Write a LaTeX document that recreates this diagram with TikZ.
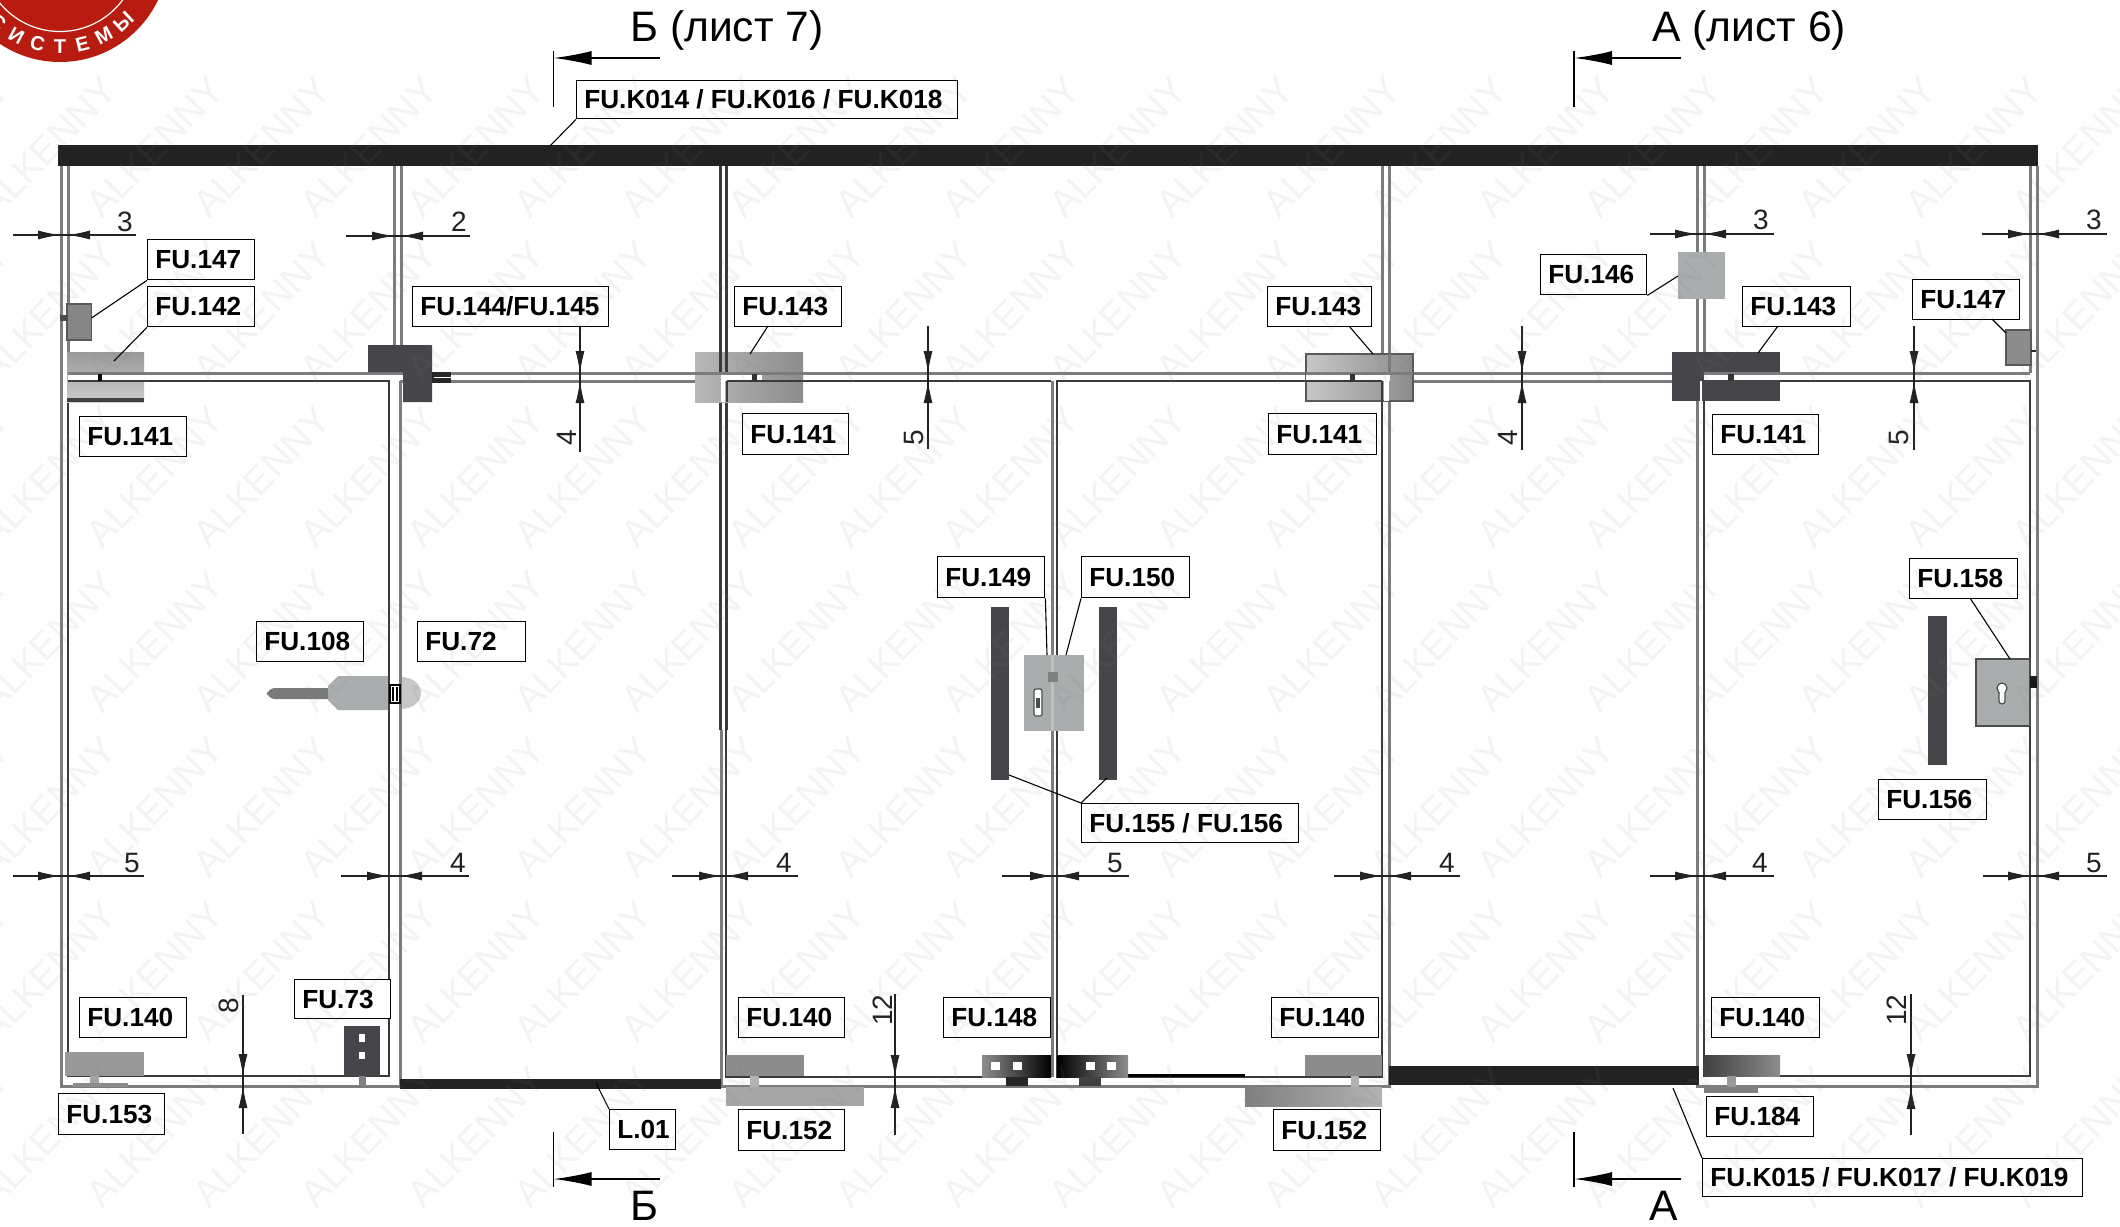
\documentclass[tikz,border=0pt]{standalone}
\usepackage{fontspec}
\setmainfont{Liberation Sans}
\usetikzlibrary{arrows.meta,shapes.geometric}
\definecolor{barblack}{HTML}{222222}
\definecolor{postgray}{HTML}{7C7C7C}
\definecolor{doordark}{HTML}{3A3A3A}
\definecolor{steel}{HTML}{A9ADAE}
\definecolor{darksteel}{HTML}{46464A}
\definecolor{logored}{HTML}{B81C10}
\tikzset{
 lbl/.style={draw=black,line width=.7pt,fill=white,inner xsep=0pt,inner ysep=0pt,font=\fontsize{13.1}{13.1}\selectfont\bfseries,text=black},
 postline/.style={draw=postgray,line width=1.5pt},
 doorline/.style={draw=doordark,line width=1.1pt},
 leader/.style={draw=black,line width=.55pt},
 dimline/.style={draw=barblack,line width=.65pt},
 dimtip/.style={draw=barblack,line width=.5pt,-{Latex[length=11pt,width=4.5pt]}},
 dimtxt/.style={font=\fontsize{14}{14}\selectfont,text=barblack,inner sep=0pt},
 secline/.style={draw=black,line width=.8pt},
 sectip/.style={draw=black,line width=.8pt,-{Latex[length=19pt,width=7pt]}},
 sectxt/.style={font=\fontsize{21.3}{21.3}\selectfont,text=black,inner sep=0pt},
 wm/.style={font=\fontsize{19}{19}\selectfont,text=gray,text opacity=.09,rotate=46,inner sep=0pt},
 keyh/.style={draw=black!70,line width=.6pt,fill=white},
}
\newcommand\lab[6]{%
 \pgfmathsetlengthmacro\lw{(#4-#2)*0.5pt}%
 \pgfmathsetlengthmacro\lh{(#5-#3)*0.5pt}%
 \node[lbl,anchor=north west,minimum height=\lh] (#1) at (#2,#3) {\hbox to \lw{\hskip 3.8pt #6\hss}};}
\newcommand\hd[8]{%
 \draw[dimline] (#1,#3) -- (#2,#3);
 \draw[dimtip] (#4-24,#3) -- (#4,#3);
 \draw[dimtip] (#5+24,#3) -- (#5,#3);
 \node[dimtxt] (h#7x#8) at (#7,#8) {#6};}
\newcommand\vd[8]{%
 \draw[dimline] (#1,#2) -- (#1,#3);
 \draw[dimtip] (#1,#4-25) -- (#1,#4);
 \draw[dimtip] (#1,#5+25) -- (#1,#5);
 \node[dimtxt,rotate=90] (v#7x#8) at (#7,#8) {#6};}
\begin{document}
\begin{tikzpicture}[x=0.5pt,y=-0.5pt]
\useasboundingbox (0,0) rectangle (2120,1226);
\fill[white] (0,0) rectangle (2120,1226);

% logo
\begin{scope}
\clip (0,0) rectangle (300,100);
\fill[logored] (60,-46.5) circle[radius=108.5];
\draw[white,line width=.6pt] (60,-46.5) circle[radius=78];
\foreach \a/\t/\n in {-42/С/a,-28/И/b,-14/С/c,0/Т/d,14/Е/e,28/М/f,43/Ы/g}{
  \node[font=\fontsize{10}{10}\selectfont\bfseries,text=white,inner sep=0pt,rotate=\a] (logo\n) at ({60+93*sin(\a)},{-46.5+93*cos(\a)}) {\t};
}
\end{scope}

% top rail
\fill[barblack] (58,145) rectangle (2038,166);

% posts above and through the transom
\foreach \x in {61,68,394,401,1382,1389,1697,1704,2030,2037}{
  \draw[postline] (\x,166) -- (\x,373);
}
\draw[doordark,line width=1.6pt] (720.5,166) -- (720.5,730);
\draw[doordark,line width=1.6pt] (726.5,166) -- (726.5,730);
% transom
\draw[postline] (68,373) -- (2030,373);
\draw[postline] (400,381) -- (721,381);
\draw[postline] (1389,381) -- (1697,381);

% outer frame below the transom
\draw[postline] (61,373) -- (61,1086) -- (400,1086) -- (400,381);
\draw[postline] (721,730) -- (721,1086);
\draw[postline] (721,1086) -- (1389,1086) -- (1389,373);
\draw[postline] (1697,373) -- (1697,1086) -- (2037,1086) -- (2037,373);

% door leaves
\draw[doorline] (68,381) -- (68,1076) -- (389,1076) -- (389,381) -- cycle;
\draw[doorline] (726,730) -- (726,1077) -- (1051,1077);
\draw[doorline] (726,381) -- (1051,381);
\draw[postline] (1052,381) -- (1052,1077);
\draw[doorline] (1382,381) -- (1057,381) -- (1057,1077) -- (1382,1077) -- cycle;
\draw[doorline] (1704,381) -- (1704,1076) -- (2030,1076) -- (2030,381) -- cycle;

% bottom black profiles
\fill[barblack] (400,1079) rectangle (721,1089);
\fill[barblack] (1389,1066) rectangle (1699,1085);
\fill[black] (1126,1074) rectangle (1245,1077);

% top left hardware
\filldraw[fill=black!48,draw=black!65,line width=.6pt] (67,304) rectangle (91.5,340);
\fill[black!70] (60,315) rectangle (68,321);
\shade[top color=black!40,bottom color=black!20] (67,352) rectangle (144,402);
\fill[black!75] (67,398) rectangle (144,402);
\fill[white] (68,375) rectangle (144,380);
\draw[postline] (68,373) -- (144,373);
\draw[doorline] (68,381) -- (144,381);
\fill[black] (98,374) rectangle (102,381);

% L-shaped dark bracket
\fill[darksteel] (368,345) -- (432,345) -- (432,402) -- (403,402) -- (403,372) -- (368,372) -- cycle;
\fill[black!85] (432,372) rectangle (451,383);
\draw[white,line width=.5pt] (434,377) -- (451,377);

% plates at the transom
\shade[left color=black!28,right color=black!45] (695,352) rectangle (803,402);
\draw[doordark,line width=1.6pt] (720.5,352) -- (720.5,373);
\draw[doordark,line width=1.6pt] (726.5,352) -- (726.5,373);
\fill[white] (721,375) rectangle (762,381);
\fill[white] (721,375) rectangle (725,402);
\draw[doordark,line width=1pt] (726.5,381) -- (726.5,402);
\draw[postline] (695,373) -- (803,373);
\draw[doorline] (727,381) -- (803,381);
\fill[black!80] (752,374) rectangle (757,381);

\shade[left color=black!22,right color=black!45] (1306,354) rectangle (1413,401);
\draw[black!65,line width=.7pt] (1306,354) rectangle (1413,401);
\fill[white] (1306,375) rectangle (1390,381);
\fill[white] (1384,375) rectangle (1389,401);
\draw[postline] (1306,373) -- (1413,373);
\draw[doorline] (1306,381) -- (1382,381);
\draw[doorline] (1382,381) -- (1382,401);
\draw[postline] (1389,354) -- (1389,373);
\fill[black!80] (1350,374) rectangle (1355,381);

\fill[darksteel] (1672,352) rectangle (1780,401);
\fill[white] (1704,375) rectangle (1780,380);
\draw[postline] (1704,373) -- (1780,373);
\draw[white,line width=.7pt] (1701,381) -- (1701,401);
\fill[black!80] (1728,374) rectangle (1734,381);

\fill[steel] (1678,252) rectangle (1725,299);
\filldraw[fill=black!45,draw=black!65,line width=.6pt] (2006,330) rectangle (2031,365);
\draw[black!85,line width=1pt] (2031,351) -- (2036,351);

% lever handle
\fill[black!52,rounded corners=4pt] (267,688) rectangle (340,699);
\fill[steel] (388,676) -- (338,676) -- (328,686) -- (328,700) -- (338,710) -- (388,710) -- cycle;
\fill[black!22] (400,677) .. controls (428,677) and (428,709) .. (400,709) -- cycle;
\draw[doorline] (389,670) -- (389,716);
\draw[postline] (400,670) -- (400,716);
\draw[black,line width=.6pt,fill=white] (390,685) rectangle (400,703);
\draw[black,line width=.6pt] (393,687) -- (393,701) (397,687) -- (397,701);

% centre hardware
\fill[darksteel] (991,607) rectangle (1009,780);
\fill[darksteel] (1099,607) rectangle (1117,780);
\fill[steel] (1024,655) rectangle (1084,731);
\draw[black!25,line width=1.5pt] (1052,655) -- (1052,731);
\fill[black!50] (1048,672) rectangle (1058,682);
\draw[keyh,rounded corners=1pt] (1034,689) rectangle (1042,716);
\fill[black!70] (1036,698) rectangle (1040,708);

% right hardware
\fill[darksteel] (1928,616) rectangle (1947,765);
\filldraw[fill=steel,draw=black!70,line width=.7pt] (1976,659) rectangle (2030,726);
\fill[black!90] (2030,676) rectangle (2037,688);
\draw[keyh] (2002,688) circle[radius=5];
\draw[keyh,rounded corners=1.5pt] (1999,690) rectangle (2005,704);
\fill[white] (1999,686) rectangle (2005,692);

% floor hardware, left door
\fill[black!40] (65,1052) rectangle (144,1076);
\fill[black!35] (90,1076) rectangle (99,1086);
\fill[black!45] (73,1083) rectangle (128,1087);
\fill[darksteel] (344,1026) rectangle (380,1076);
\fill[white] (359,1034) rectangle (365,1042);
\fill[white] (359,1052) rectangle (365,1059);
\fill[black!50] (359,1076) rectangle (366,1085);

% floor hardware, middle doors
\fill[black!45] (726,1055) rectangle (804,1076);
\fill[black!30] (750,1076) rectangle (759,1087);
\fill[black!35] (726,1087) rectangle (864,1106);
\shade[left color=black!45,right color=black] (982,1055) rectangle (1051,1077);
\fill[white] (991,1062) rectangle (1000,1070);
\fill[white] (1013,1062) rectangle (1022,1070);
\fill[black!85] (1006,1077) rectangle (1028,1086);
\shade[left color=black,right color=black!45] (1057,1055) rectangle (1128,1077);
\fill[white] (1086,1062) rectangle (1095,1070);
\fill[white] (1107,1062) rectangle (1116,1070);
\fill[black!75] (1079,1077) rectangle (1101,1086);
\fill[black!45] (1305,1055) rectangle (1382,1076);
\fill[black!30] (1351,1076) rectangle (1359,1087);
\shade[left color=black!50,right color=black!30] (1245,1087) rectangle (1382,1106);

% floor hardware, right door
\shade[left color=black!75,right color=black!45] (1704,1055) rectangle (1780,1076);
\fill[black!40] (1727,1076) rectangle (1736,1087);
\fill[black!50] (1704,1087) rectangle (1758,1093);

% labels
\lab{k014}{576}{80}{957}{118}{FU.K014 / FU.K016 / FU.K018}
\lab{a147}{147}{239}{254}{279}{FU.147}
\lab{a142}{147}{286}{254}{326}{FU.142}
\lab{a141}{79}{416}{186}{456}{FU.141}
\lab{a144}{412}{286}{608}{326}{FU.144/FU.145}
\lab{b143}{734}{286}{841}{326}{FU.143}
\lab{b141}{742}{413}{848}{454}{FU.141}
\lab{c143}{1267}{286}{1371}{326}{FU.143}
\lab{c141}{1268}{413}{1376}{454}{FU.141}
\lab{d146}{1540}{254}{1646}{294}{FU.146}
\lab{d143}{1742}{286}{1850}{326}{FU.143}
\lab{d147}{1912}{279}{2019}{319}{FU.147}
\lab{d141}{1712}{414}{1818}{454}{FU.141}
\lab{a108}{256}{621}{363}{661}{FU.108}
\lab{a72}{417}{621}{525}{661}{FU.72}
\lab{b149}{937}{556}{1044}{597}{FU.149}
\lab{b150}{1081}{556}{1189}{597}{FU.150}
\lab{b155}{1081}{803}{1298}{842}{FU.155 / FU.156}
\lab{d158}{1909}{558}{2017}{598}{FU.158}
\lab{d156}{1878}{779}{1986}{819}{FU.156}
\lab{a140}{79}{997}{186}{1037}{FU.140}
\lab{a73}{294}{979}{390}{1018}{FU.73}
\lab{a153}{58}{1093}{164}{1134}{FU.153}
\lab{l01}{609}{1109}{675}{1149}{L.01}
\lab{b140}{738}{997}{844}{1037}{FU.140}
\lab{b148}{943}{997}{1050}{1037}{FU.148}
\lab{c140}{1271}{997}{1378}{1037}{FU.140}
\lab{b152}{738}{1109}{844}{1150}{FU.152}
\lab{c152}{1273}{1109}{1380}{1150}{FU.152}
\lab{d140}{1711}{997}{1819}{1037}{FU.140}
\lab{d184}{1706}{1096}{1813}{1136}{FU.184}
\lab{k015}{1702}{1158}{2082}{1196}{FU.K015 / FU.K017 / FU.K019}

% leader ends
\coordinate (pk014) at (550,146);
\coordinate (p147a) at (91.5,318);
\coordinate (p142) at (114,361);
\coordinate (s143b) at (768,326);
\coordinate (p143b) at (750,354);
\coordinate (s143c) at (1349,326);
\coordinate (p143c) at (1373,354);
\coordinate (s143d) at (1778,326);
\coordinate (p143d) at (1758,353);
\coordinate (p146) at (1678,276);
\coordinate (s147d) at (1992,319);
\coordinate (p147d) at (2006,333);
\coordinate (p149) at (1047,655);
\coordinate (p150) at (1066,655);
\coordinate (p155a) at (1009,775);
\coordinate (p155b) at (1107,778);
\coordinate (s158) at (1970,598);
\coordinate (p158) at (2010,659);
\coordinate (p01) at (596,1083);
\coordinate (pk015) at (1673,1088);
\draw[leader] (k014.south west) -- (pk014);
\draw[leader] (a147.south west) -- (p147a);
\draw[leader] (a142.south west) -- (p142);
\draw[leader] (s143b) -- (p143b);
\draw[leader] (s143c) -- (p143c);
\draw[leader] (s143d) -- (p143d);
\draw[leader] (d146.south east) -- (p146);
\draw[leader] (s147d) -- (p147d);
\draw[leader] (b149.south east) -- (p149);
\draw[leader] (b150.south west) -- (p150);
\draw[leader] (b155.north west) -- (p155a);
\draw[leader] (b155.north west) -- (p155b);
\draw[leader] (s158) -- (p158);
\draw[leader] (l01.north west) -- (p01);
\draw[leader] (k015.north west) -- (pk015);

% dimensions, horizontal
\hd{13}{136}{235}{60}{68}{3}{125}{222}
\hd{346}{470}{236}{394}{401}{2}{459}{222}
\hd{1650}{1774}{234}{1697}{1704}{3}{1761}{220}
\hd{1982}{2107}{234}{2030}{2037}{3}{2094}{220}
\hd{13}{144}{876}{60}{68}{5}{132}{863}
\hd{341}{469}{876}{389}{400}{4}{458}{863}
\hd{672}{798}{876}{721}{726}{4}{784}{863}
\hd{1002}{1129}{876}{1052}{1057}{5}{1115}{863}
\hd{1334}{1460}{876}{1382}{1389}{4}{1447}{863}
\hd{1650}{1774}{876}{1697}{1704}{4}{1760}{863}
\hd{1983}{2107}{876}{2030}{2037}{5}{2094}{863}
% dimensions, vertical
\vd{580}{327}{452}{373}{381}{4}{567}{438}
\vd{928}{326}{449}{373}{381}{5}{914}{438}
\vd{1522}{326}{450}{373}{381}{4}{1508}{438}
\vd{1914}{326}{450}{373}{381}{5}{1899}{438}
\vd{243}{995}{1134}{1076}{1086}{8}{229}{1006}
\vd{895}{994}{1135}{1077}{1086}{12}{883}{1010}
\vd{1911}{994}{1135}{1076}{1087}{12}{1897}{1010}

% section marks
\coordinate (bt0) at (553.5,51); \coordinate (bt1) at (553.5,107);
\coordinate (bt2) at (660,58); \coordinate (bt3) at (553.5,58);
\draw[secline] (bt0) -- (bt1);
\draw[sectip] (bt2) -- (bt3);
\node[sectxt,anchor=base west] (bt) at (630,41.5) {Б (лист 7)};
\coordinate (at0) at (1574,51); \coordinate (at1) at (1574,107);
\coordinate (at2) at (1681,58); \coordinate (at3) at (1574,58);
\draw[secline] (at0) -- (at1);
\draw[sectip] (at2) -- (at3);
\node[sectxt,anchor=base west] (at) at (1652,41.5) {А (лист 6)};
\coordinate (bb0) at (553.5,1132); \coordinate (bb1) at (553.5,1187);
\coordinate (bb2) at (660,1179); \coordinate (bb3) at (553.5,1179);
\draw[secline] (bb0) -- (bb1);
\draw[sectip] (bb2) -- (bb3);
\node[sectxt,anchor=base] (bb) at (644,1220) {Б};
\coordinate (ab0) at (1574,1132); \coordinate (ab1) at (1574,1187);
\coordinate (ab2) at (1681,1179); \coordinate (ab3) at (1574,1179);
\draw[secline] (ab0) -- (ab1);
\draw[sectip] (ab2) -- (ab3);
\node[sectxt,anchor=base] (ab) at (1664,1220) {А};

% watermark
\begin{scope}
\clip (0,0) rectangle (2120,1226);
\foreach \j in {0,...,8}{
  \foreach \i in {0,...,20}{
    \node[wm] (wm\j x\i) at ({112-64+107*\i-107},{80+67+165*\j}) {ALKENNY};
  }
}
\end{scope}
\end{tikzpicture}
\end{document}
